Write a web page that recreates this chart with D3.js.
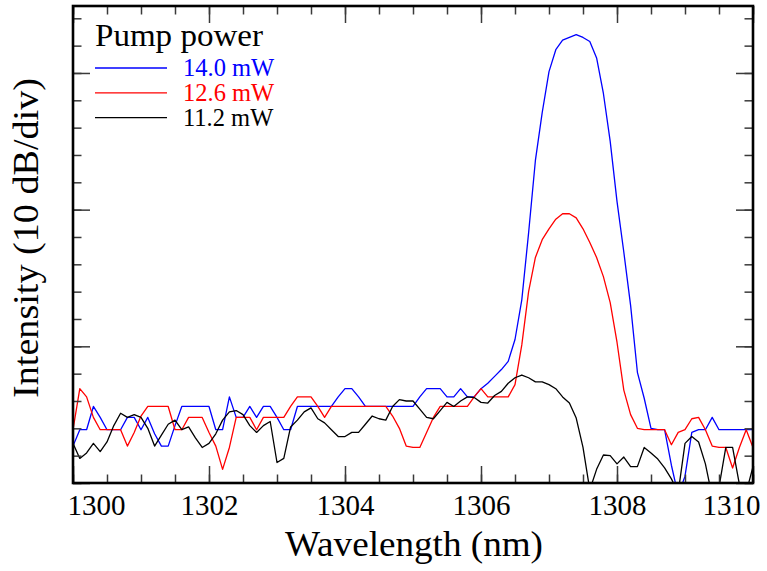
<!DOCTYPE html>
<html>
<head>
<meta charset="utf-8">
<script src="https://cdn.jsdelivr.net/npm/d3@7"></script>
<style>
  html, body { margin: 0; padding: 0; background: #fff; }
  svg { display: block; }
  text { font-family: "Liberation Serif", "Times New Roman", serif; }
</style>
</head>
<body>
<svg id="chart" width="767" height="571"></svg>
<script>
// ---- data ----
const wavelengthStart = 1300;   // nm, first sample
const wavelengthStep = 0.1;     // nm, sample spacing
// relative intensity in dB (bottom of frame = 0 dB)
const power14_0 = [2.7,3.9,3.9,5.6,4.8,3.9,3.9,3.9,4.8,4.8,
  3.9,4.8,3.6,2.7,2.7,4.2,5.6,5.6,5.6,5.6,
  5.6,3.9,3.9,6.3,4.8,4.8,5.6,4.8,5.6,5.6,
  4.8,3.9,3.9,5.6,5.6,5.6,5.6,5.6,5.6,6.3,
  6.9,6.9,6.3,5.6,5.6,5.6,5.6,5.6,5.6,5.6,
  5.6,6.3,6.9,6.9,6.9,6.3,6.3,6.9,6.3,6.3,
  6.9,7.3,7.8,8.3,8.9,10.5,13.4,18.3,23.6,27.1,
  30.1,31.7,32.4,32.6,32.8,32.6,32.3,31.1,28.5,25.0,
  20.6,16.9,13.0,8.1,6.2,4.0,3.9,3.9,1.3,-0.9,
  0.5,3.7,3.9,3.9,4.8,3.9,3.9,3.9,3.9,3.9,3.9];
const power12_6 = [3.9,6.9,6.3,4.8,3.9,3.9,3.9,3.9,2.7,3.7,
  4.9,5.6,5.6,5.6,5.6,3.9,3.9,4.8,4.8,4.8,
  3.7,2.7,1.0,2.6,4.8,4.8,4.8,3.9,4.8,4.8,
  4.8,4.8,5.6,6.3,6.3,6.3,5.6,4.8,5.6,5.6,
  5.6,5.6,5.6,5.6,5.6,5.6,5.6,4.9,4.0,2.7,
  2.6,2.6,3.7,4.8,5.6,5.6,5.6,5.6,5.6,6.3,
  6.9,6.3,6.3,6.3,6.3,7.2,10.1,14.0,16.5,17.8,
  18.6,19.3,19.7,19.7,19.4,18.6,17.6,16.5,15.1,13.2,
  10.3,6.8,5.0,4.0,3.9,3.9,3.9,3.9,2.8,3.7,
  3.9,4.7,4.8,3.9,2.7,2.6,2.6,1.1,2.6,3.9,2.6];
const power11_2 = [2.9,1.8,2.2,2.9,2.3,3.0,4.2,5.1,4.8,5.0,
  4.8,4.0,2.7,3.5,4.3,4.6,3.9,4.1,3.3,2.6,
  2.9,3.6,4.6,5.2,5.3,5.0,4.2,3.7,4.2,4.5,
  1.5,1.8,4.1,4.6,5.2,5.5,4.7,4.4,3.9,3.4,
  3.4,3.7,3.7,4.3,4.9,4.7,4.6,5.6,6.1,6.0,
  6.0,5.4,4.8,4.7,5.3,5.9,5.6,6.0,6.3,6.25,
  5.9,5.85,6.4,6.7,7.3,7.7,7.9,7.7,7.4,7.4,
  7.2,6.9,6.3,5.85,4.75,2.6,-0.5,1.0,2.05,2.0,
  1.4,1.9,1.2,1.2,2.6,2.2,1.75,1.1,0.3,-0.7,
  2.9,3.4,3.0,1.4,-1.0,-0.3,2.6,2.6,-0.1,-0.7,1.2];
const seriesLabels = ["14.0 mW", "12.6 mW", "11.2 mW"];
const seriesColors = ["#0000ff", "#ff0000", "#000000"];
const xMajorTicks = [1300, 1302, 1304, 1306, 1308, 1310];
const xMinorTicks = d3.range(1300, 1310.01, 0.5);
const yMajorTicks = [0, 10, 20, 30];
const yMinorTicks = d3.range(0, 34.1, 2);
const xDomain = [1300, 1310];
const yDomain = [0, 34.9];

// ---- layout ----
const svg = d3.select("#chart");
const L = 73, R = 753, T = 6, B = 483;
const x = d3.scaleLinear().domain(xDomain).range([L, R]);
const y = d3.scaleLinear().domain(yDomain).range([B, T]);

svg.append("defs").append("clipPath").attr("id", "plotclip")
  .append("rect").attr("x", L).attr("y", T).attr("width", R - L).attr("height", B - T);

const series = [power14_0, power12_6, power11_2];
const line = d3.line()
  .x((d, i) => x(wavelengthStart + i * wavelengthStep))
  .y(d => y(d));

const g = svg.append("g").attr("clip-path", "url(#plotclip)");
series.forEach((s, k) => {
  g.append("path").datum(s)
    .attr("fill", "none")
    .attr("stroke", seriesColors[k])
    .attr("stroke-width", 1.3)
    .attr("stroke-linejoin", "round")
    .attr("d", line);
});

// ---- ticks (inside, all four sides) ----
function styleTicks(sel) {
  sel.select(".domain").remove();
  sel.selectAll(".tick line").attr("stroke", "#3a3a3a").attr("stroke-width", 1.5);
}
const MAJ = 17, MIN = 8.5;
svg.append("g").attr("transform", `translate(0,${B})`)
  .call(d3.axisBottom(x).tickValues(xMinorTicks).tickSize(-MIN).tickFormat(""))
  .call(styleTicks);
svg.append("g").attr("transform", `translate(0,${T})`)
  .call(d3.axisTop(x).tickValues(xMinorTicks).tickSize(-MIN).tickFormat(""))
  .call(styleTicks);
const xb = svg.append("g").attr("transform", `translate(0,${B})`)
  .call(d3.axisBottom(x).tickValues(xMajorTicks).tickSize(-MAJ).tickPadding(0).tickFormat(d3.format("d")))
  .call(styleTicks);
xb.selectAll(".tick text")
  .attr("fill", "#000")
  .style("font-size", "29px")
  .attr("y", 32).attr("dy", 0)
  .attr("text-anchor", (d, i, n) => i === 0 ? "start" : (i === n.length - 1 ? "end" : "middle"))
  .attr("dx", (d, i, n) => i === 0 ? -6 : (i === n.length - 1 ? 7 : 0));
svg.append("g").attr("transform", `translate(0,${T})`)
  .call(d3.axisTop(x).tickValues(xMajorTicks).tickSize(-MAJ).tickFormat(""))
  .call(styleTicks);

svg.append("g").attr("transform", `translate(${L},0)`)
  .call(d3.axisLeft(y).tickValues(yMinorTicks).tickSize(-MIN).tickFormat(""))
  .call(styleTicks);
svg.append("g").attr("transform", `translate(${L},0)`)
  .call(d3.axisLeft(y).tickValues(yMajorTicks).tickSize(-MAJ).tickFormat(""))
  .call(styleTicks);
svg.append("g").attr("transform", `translate(${R},0)`)
  .call(d3.axisRight(y).tickValues(yMinorTicks).tickSize(-MIN).tickFormat(""))
  .call(styleTicks);
svg.append("g").attr("transform", `translate(${R},0)`)
  .call(d3.axisRight(y).tickValues(yMajorTicks).tickSize(-MAJ).tickFormat(""))
  .call(styleTicks);

// frame
svg.append("rect").attr("x", L).attr("y", T).attr("width", R - L).attr("height", B - T)
  .attr("fill", "none").attr("stroke", "#000").attr("stroke-width", 2.6);

// ---- axis titles ----
svg.append("text").attr("x", 414).attr("y", 556)
  .attr("text-anchor", "middle").style("font-size", "35px")
  .attr("textLength", 258).attr("lengthAdjust", "spacingAndGlyphs")
  .text("Wavelength (nm)");
svg.append("text").attr("transform", `translate(38,238) rotate(-90)`)
  .attr("text-anchor", "middle").style("font-size", "35px")
  .attr("textLength", 320).attr("lengthAdjust", "spacingAndGlyphs")
  .text("Intensity (10 dB/div)");

// ---- legend ----
svg.append("text").attr("x", 95).attr("y", 46).style("font-size", "32px")
  .attr("textLength", 168).attr("lengthAdjust", "spacingAndGlyphs")
  .text("Pump power");
const leg = svg.append("g").selectAll("g").data(seriesLabels).join("g")
  .attr("transform", (d, i) => `translate(0,${68 + i * 24.8})`);
leg.append("line").attr("x1", 95).attr("x2", 167).attr("y1", 0).attr("y2", 0)
  .attr("stroke", (d, i) => seriesColors[i]).attr("stroke-width", 1.3);
leg.append("text").attr("x", 183).attr("y", 8.3).style("font-size", "24.5px")
  .attr("fill", (d, i) => seriesColors[i]).text(d => d);
</script>
</body>
</html>
